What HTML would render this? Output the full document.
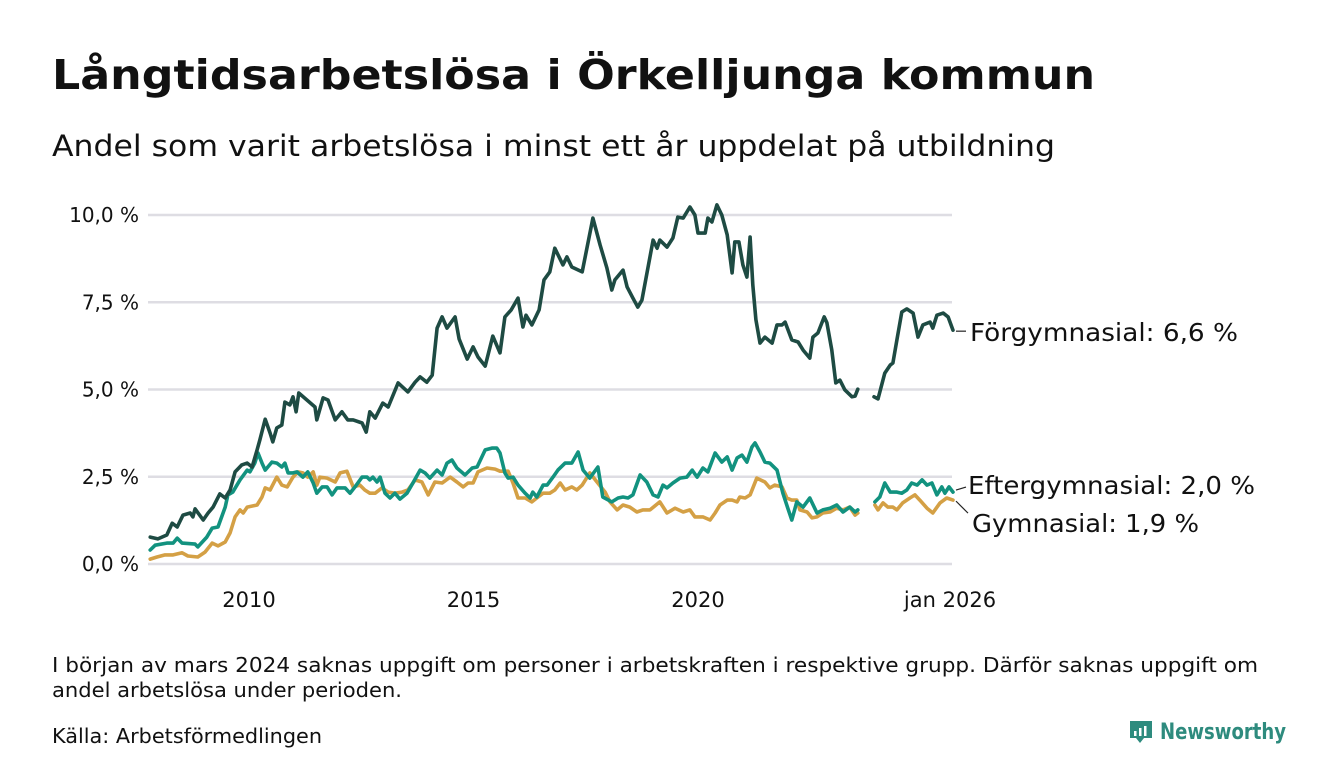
<!DOCTYPE html>
<html><head><meta charset="utf-8">
<style>
html,body{margin:0;padding:0;background:#fff;}
body{width:1340px;height:780px;overflow:hidden;font-family:"DejaVu Sans","Liberation Sans",sans-serif;}
svg text{font-family:"DejaVu Sans","Liberation Sans",sans-serif;fill:#111;}
</style></head>
<body>
<svg id="chart" width="1340" height="780" viewBox="0 0 1340 780" xmlns="http://www.w3.org/2000/svg">
  <text x="52" y="89" font-size="41" font-weight="bold" textLength="1043" lengthAdjust="spacingAndGlyphs">Långtidsarbetslösa i Örkelljunga kommun</text>
  <text x="52" y="156" font-size="29" textLength="1003" lengthAdjust="spacingAndGlyphs">Andel som varit arbetslösa i minst ett år uppdelat på utbildning</text>
  <g id="grid"></g>
  <g id="yaxis"></g>
  <g id="xaxis"></g>
  <g id="series"></g>
  <g id="labels"></g>
  <text x="52" y="672" font-size="20" textLength="1206" lengthAdjust="spacingAndGlyphs">I början av mars 2024 saknas uppgift om personer i arbetskraften i respektive grupp. Därför saknas uppgift om</text>
  <text x="52" y="697" font-size="20" textLength="350" lengthAdjust="spacingAndGlyphs">andel arbetslösa under perioden.</text>
  <text x="52" y="743" font-size="20" textLength="270" lengthAdjust="spacingAndGlyphs">Källa: Arbetsförmedlingen</text>
  <g>
    <path d="M1130 721 h22 v17 h-8 l-4 5 l-4 -5 h-6 z" fill="#2e8b7e"/>
    <rect x="1134" y="731" width="2.5" height="5" fill="#fff"/>
    <rect x="1139" y="728" width="2.5" height="8" fill="#fff"/>
    <rect x="1144" y="726" width="2.5" height="10" fill="#fff"/>
    <text x="1160" y="739" font-size="22" font-weight="bold" style="fill:#2e8b7e" textLength="126" lengthAdjust="spacingAndGlyphs">Newsworthy</text>
  </g>
</svg>
<script>
const yTicks = [0, 2.5, 5, 7.5, 10];
const yTickLabels = ["0,0 %", "2,5 %", "5,0 %", "7,5 %", "10,0 %"];
const xTicks = [2010, 2015, 2020, 2026];
const xTickLabels = ["2010", "2015", "2020", "jan 2026"];
const seriesNames = ["Förgymnasial", "Eftergymnasial", "Gymnasial"];
const endLabels = ["Förgymnasial: 6,6 %", "Eftergymnasial: 2,0 %", "Gymnasial: 1,9 %"];

const forgDates = [2007.80,2007.97,2008.17,2008.29,2008.40,2008.53,2008.69,2008.75,2008.80,2008.98,2009.09,2009.20,2009.35,2009.47,2009.58,2009.69,2009.84,2009.96,2010.07,2010.18,2010.24,2010.36,2010.47,2010.53,2010.62,2010.73,2010.80,2010.91,2010.98,2011.05,2011.11,2011.29,2011.47,2011.51,2011.65,2011.76,2011.92,2012.07,2012.20,2012.32,2012.52,2012.61,2012.69,2012.81,2012.98,2013.10,2013.32,2013.54,2013.70,2013.81,2013.96,2014.08,2014.19,2014.30,2014.41,2014.59,2014.68,2014.86,2014.99,2015.10,2015.26,2015.43,2015.59,2015.70,2015.84,2015.99,2016.10,2016.17,2016.30,2016.46,2016.57,2016.70,2016.81,2016.99,2017.08,2017.19,2017.42,2017.66,2017.82,2017.97,2018.08,2018.15,2018.33,2018.42,2018.55,2018.66,2018.75,2019.00,2019.09,2019.15,2019.31,2019.44,2019.55,2019.67,2019.82,2019.93,2020.00,2020.16,2020.22,2020.31,2020.42,2020.53,2020.65,2020.76,2020.82,2020.91,2021.00,2021.09,2021.16,2021.22,2021.29,2021.38,2021.49,2021.65,2021.76,2021.87,2021.94,2022.09,2022.23,2022.34,2022.49,2022.56,2022.67,2022.81,2022.87,2022.98,2023.07,2023.16,2023.27,2023.43,2023.50,2023.56,2023.75,2023.92,2024.01,2024.16,2024.28,2024.34,2024.43,2024.54,2024.65,2024.79,2024.90,2025.01,2025.17,2025.23,2025.32,2025.46,2025.57,2025.68];
const forgValues = [0.77,0.72,0.83,1.17,1.06,1.40,1.46,1.35,1.58,1.26,1.46,1.63,2.01,1.89,2.12,2.64,2.84,2.89,2.78,3.27,3.55,4.15,3.75,3.50,3.90,3.98,4.64,4.56,4.79,4.36,4.90,4.70,4.50,4.13,4.76,4.70,4.13,4.36,4.13,4.13,4.04,3.78,4.36,4.18,4.61,4.50,5.19,4.93,5.21,5.36,5.21,5.41,6.76,7.08,6.76,7.08,6.45,5.87,6.22,5.93,5.67,6.53,6.05,7.08,7.28,7.62,6.79,7.13,6.85,7.28,8.14,8.37,9.05,8.57,8.80,8.51,8.37,9.91,9.14,8.48,7.85,8.14,8.42,7.94,7.62,7.36,7.56,9.28,9.05,9.28,9.08,9.34,9.94,9.91,10.23,10.00,9.48,9.48,9.91,9.80,10.29,10.00,9.43,8.34,9.23,9.23,8.57,8.22,9.37,8.00,7.00,6.33,6.50,6.33,6.85,6.85,6.93,6.42,6.36,6.13,5.90,6.50,6.62,7.08,6.91,6.13,5.19,5.27,4.99,4.79,4.81,5.01,null,4.79,4.73,5.47,5.70,5.76,6.42,7.22,7.31,7.19,6.50,6.85,6.93,6.76,7.13,7.19,7.08,6.70];

const eftDates = [2007.80,2007.91,2008.17,2008.31,2008.40,2008.51,2008.80,2008.86,2009.06,2009.18,2009.31,2009.47,2009.53,2009.64,2009.80,2009.96,2010.02,2010.13,2010.20,2010.29,2010.36,2010.51,2010.62,2010.73,2010.80,2010.87,2010.98,2011.07,2011.20,2011.31,2011.43,2011.51,2011.63,2011.74,2011.85,2011.96,2012.14,2012.25,2012.36,2012.52,2012.63,2012.69,2012.76,2012.85,2012.92,2013.03,2013.14,2013.25,2013.36,2013.52,2013.65,2013.81,2013.92,2014.03,2014.19,2014.30,2014.41,2014.52,2014.63,2014.81,2014.97,2015.08,2015.26,2015.41,2015.52,2015.59,2015.70,2015.77,2015.88,2015.99,2016.15,2016.26,2016.32,2016.41,2016.55,2016.64,2016.77,2016.88,2017.04,2017.19,2017.33,2017.44,2017.59,2017.77,2017.88,2018.08,2018.22,2018.33,2018.44,2018.55,2018.71,2018.86,2019.00,2019.11,2019.22,2019.31,2019.44,2019.60,2019.75,2019.87,2019.98,2020.11,2020.22,2020.38,2020.53,2020.65,2020.76,2020.87,2020.98,2021.09,2021.20,2021.27,2021.38,2021.49,2021.60,2021.76,2021.89,2022.00,2022.09,2022.20,2022.34,2022.49,2022.65,2022.78,2022.94,2023.09,2023.23,2023.38,2023.50,2023.56,2023.75,2023.94,2024.05,2024.16,2024.28,2024.43,2024.54,2024.65,2024.76,2024.88,2024.99,2025.10,2025.21,2025.32,2025.43,2025.50,2025.59,2025.68];
const eftValues = [0.40,0.54,0.60,0.60,0.74,0.60,0.57,0.49,0.77,1.03,1.06,1.63,1.98,2.06,2.41,2.69,2.64,2.89,3.18,2.89,2.69,2.92,2.89,2.78,2.89,2.61,2.61,2.64,2.49,2.64,2.32,2.03,2.21,2.21,1.98,2.18,2.18,2.03,2.21,2.49,2.49,2.41,2.49,2.35,2.49,2.03,1.89,2.03,1.86,2.03,2.32,2.69,2.61,2.46,2.69,2.55,2.89,2.98,2.75,2.55,2.75,2.78,3.27,3.32,3.32,3.18,2.61,2.46,2.49,2.26,2.03,1.89,2.06,1.92,2.26,2.26,2.49,2.69,2.89,2.89,3.21,2.69,2.46,2.78,1.92,1.78,1.89,1.92,1.89,1.98,2.55,2.35,1.98,1.92,2.26,2.18,2.32,2.46,2.49,2.69,2.49,2.75,2.64,3.18,2.92,3.07,2.69,3.04,3.12,2.92,3.35,3.47,3.21,2.92,2.89,2.69,2.03,1.60,1.26,1.78,1.63,1.89,1.46,1.55,1.60,1.69,1.49,1.63,1.49,1.55,null,1.78,1.92,2.32,2.06,2.06,2.03,2.12,2.32,2.26,2.41,2.26,2.32,1.98,2.21,2.03,2.21,2.06];

const gymDates = [2007.80,2007.95,2008.13,2008.31,2008.51,2008.64,2008.86,2009.02,2009.18,2009.31,2009.47,2009.58,2009.69,2009.80,2009.87,2009.96,2010.18,2010.29,2010.36,2010.47,2010.62,2010.73,2010.85,2010.98,2011.09,2011.20,2011.31,2011.43,2011.51,2011.58,2011.74,2011.92,2012.03,2012.18,2012.32,2012.47,2012.58,2012.69,2012.81,2012.96,2013.10,2013.25,2013.41,2013.54,2013.70,2013.85,2013.99,2014.14,2014.30,2014.48,2014.63,2014.77,2014.88,2014.99,2015.10,2015.30,2015.48,2015.59,2015.77,2015.88,2015.99,2016.15,2016.30,2016.41,2016.55,2016.70,2016.81,2016.93,2017.04,2017.19,2017.30,2017.42,2017.59,2017.75,2017.93,2018.04,2018.20,2018.33,2018.48,2018.64,2018.77,2018.93,2019.15,2019.31,2019.49,2019.67,2019.82,2019.93,2020.11,2020.27,2020.38,2020.49,2020.65,2020.76,2020.87,2020.93,2021.05,2021.16,2021.31,2021.49,2021.60,2021.71,2021.87,2021.98,2022.09,2022.20,2022.27,2022.43,2022.54,2022.65,2022.78,2022.94,2023.09,2023.23,2023.38,2023.50,2023.56,2023.75,2023.94,2024.01,2024.12,2024.23,2024.34,2024.43,2024.56,2024.72,2024.83,2024.94,2025.10,2025.23,2025.39,2025.54,2025.68];
const gymValues = [0.14,0.20,0.26,0.26,0.32,0.23,0.20,0.34,0.60,0.52,0.63,0.89,1.35,1.55,1.46,1.63,1.69,1.92,2.18,2.12,2.49,2.26,2.21,2.49,2.64,2.61,2.49,2.64,2.26,2.49,2.46,2.35,2.61,2.66,2.21,2.26,2.12,2.03,2.03,2.18,2.06,2.03,2.06,2.12,2.41,2.35,1.98,2.35,2.32,2.49,2.35,2.21,2.32,2.32,2.64,2.75,2.72,2.66,2.66,2.32,1.89,1.89,1.78,1.89,2.03,2.03,2.12,2.32,2.12,2.21,2.12,2.26,2.61,2.35,2.06,1.78,1.55,1.69,1.63,1.49,1.55,1.55,1.78,1.46,1.60,1.49,1.55,1.35,1.35,1.26,1.46,1.69,1.83,1.83,1.78,1.92,1.89,1.98,2.46,2.35,2.18,2.26,2.21,1.89,1.83,1.83,1.55,1.49,1.32,1.35,1.46,1.49,1.60,1.55,1.63,1.40,1.46,null,1.69,1.55,1.75,1.63,1.63,1.55,1.75,1.89,1.98,1.83,1.60,1.46,1.75,1.89,1.83];

const NS = "http://www.w3.org/2000/svg";
const X0 = 249, PX_PER_YEAR = 44.9, Y0 = 564, PX_PER_PCT = 34.9;
function xScale(yr){ return X0 + (yr - 2010) * PX_PER_YEAR; }
function yScale(v){ return Y0 - v * PX_PER_PCT; }
function mk(tag, attrs, parent){ const e = document.createElementNS(NS, tag); for (const k in attrs) e.setAttribute(k, attrs[k]); parent.appendChild(e); return e; }

const grid = document.getElementById('grid');
const yaxis = document.getElementById('yaxis');
yTicks.forEach((t, i) => {
  const l = mk('line', {x1:148, x2:952, y1:yScale(t), y2:yScale(t), stroke:'#dedde3', 'stroke-width':2.5}, grid);
  
  
  const tx = mk('text', {x:139, y:yScale(t)+7, 'font-size':20, 'text-anchor':'end'}, yaxis);
  tx.textContent = yTickLabels[i];
  
  
});
const xaxis = document.getElementById('xaxis');
xTicks.forEach((t, i) => {
  const xx = i === xTicks.length - 1 ? 950 : xScale(t);
  const tx = mk('text', {x:xx, y:607, 'font-size':21, 'text-anchor':'middle'}, xaxis);
  tx.textContent = xTickLabels[i];
  
  
});

function pathFor(dates, vals){
  let d = '', pen = false;
  for (let i = 0; i < dates.length; i++){
    if (vals[i] === null){ pen = false; continue; }
    d += (pen ? 'L' : 'M') + xScale(dates[i]).toFixed(1) + ' ' + yScale(vals[i]).toFixed(1) + ' ';
    pen = true;
  }
  return d;
}
const seriesG = document.getElementById('series');
const defs = [[gymDates, gymValues, '#d4a045', 'line-gymnasial'], [eftDates, eftValues, '#12927f', 'line-eftergymnasial'], [forgDates, forgValues, '#1e4b43', 'line-forgymnasial']];
defs.forEach(s => {
  const p = mk('path', {d:pathFor(s[0], s[1]), fill:'none', stroke:s[2], 'stroke-width':3.6, 'stroke-linejoin':'round', 'stroke-linecap':'round'}, seriesG);
  
  
});

const lab = document.getElementById('labels');
const lastF = forgValues[forgValues.length-1], lastE = eftValues[eftValues.length-1], lastG = gymValues[gymValues.length-1];
mk('line', {x1:956, x2:966, y1:yScale(lastF)+1, y2:yScale(lastF)+1, stroke:'#222', 'stroke-width':1.2}, lab);
mk('line', {x1:956, x2:966, y1:yScale(lastE)-2, y2:yScale(lastE)-5, stroke:'#222', 'stroke-width':1.2}, lab);
mk('line', {x1:956, x2:968, y1:yScale(lastG)+1, y2:yScale(lastG)+13, stroke:'#222', 'stroke-width':1.2}, lab);
const labPos = [[970, 341, 268], [968, 494, 287], [972, 532, 227]];
endLabels.forEach((t, i) => {
  const tx = mk('text', {x:labPos[i][0], y:labPos[i][1], 'font-size':25, textLength:labPos[i][2], lengthAdjust:'spacingAndGlyphs'}, lab);
  tx.textContent = t;
  
  
});
</script>
</body></html>
